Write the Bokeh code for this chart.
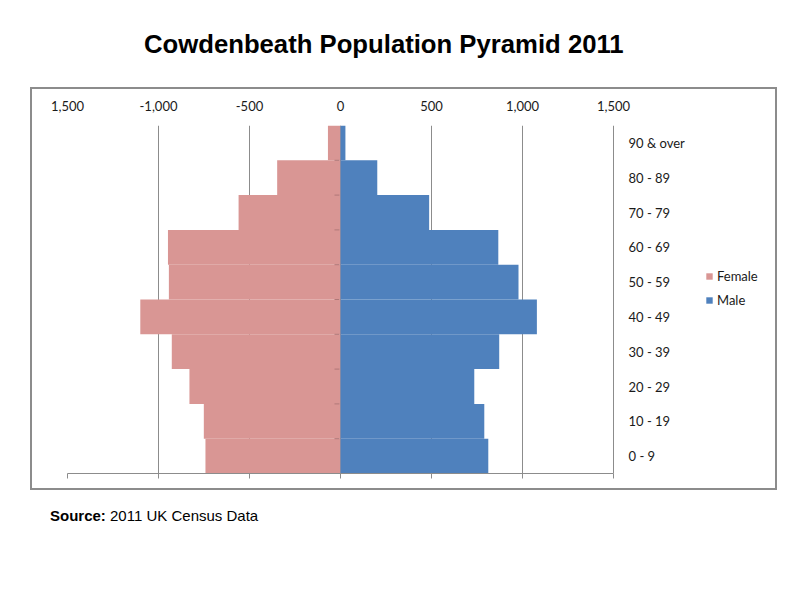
from bokeh.plotting import figure
from bokeh.models import (ColumnDataSource, FactorRange, Range1d, LinearAxis, FixedTicker,
                          Legend, LegendItem, Div, Spacer)
from bokeh.layouts import column, row
from bokeh.core.properties import value
from bokeh.transform import dodge
from bokeh.embed import file_html
from bokeh.resources import INLINE

# ---- data ----
age_groups = ["0 - 9", "10 - 19", "20 - 29", "30 - 39", "40 - 49",
              "50 - 59", "60 - 69", "70 - 79", "80 - 89", "90 & over"]
female = [742, 751, 830, 927, 1100, 943, 948, 560, 348, 69]
male = [812, 790, 735, 872, 1079, 978, 867, 487, 202, 27]
tick_values = [-1500, -1000, -500, 0, 500, 1000, 1500]
tick_labels = ["1,500", "-1,000", "-500", "0", "500", "1,000", "1,500"]
title_text = "Cowdenbeath Population Pyramid 2011"
source_bold = "Source:"
source_text = "2011 UK Census Data"
series_names = ["Female", "Male"]

PINK = "#D99694"
BLUE = "#4F81BD"
GRID = "#8c8c8c"
FONT = "Lato"

# x range: the value axis spans -1500..1500; extra room on the right holds
# the category labels and the legend (as in the original Excel chart area)
X_MIN, X_MAX = -1500, 2401

src = ColumnDataSource(dict(
    age=age_groups,
    female_neg=[-v for v in female],
    male=male,
    label_x=[tick_values[-1]] * len(age_groups),
))

p = figure(width=747, height=403, output_backend="svg", toolbar_location=None,
           x_range=Range1d(X_MIN, X_MAX), y_range=FactorRange(factors=age_groups),
           x_axis_location="above", y_axis_location=None,
           min_border_left=35, min_border_right=2, min_border_top=36, min_border_bottom=19,
           background_fill_color="white", border_fill_color="white")
p.outline_line_color = None
p.styles = {"border": "2px solid #8c8c8c", "box-sizing": "border-box"}

# bars
rf = p.hbar(y="age", left="female_neg", right=0, height=1.0, source=src,
            fill_color=PINK, line_color=None)
rm = p.hbar(y="age", left=0, right="male", height=1.0, source=src,
            fill_color=BLUE, line_color=None)

# small ticks on the zero (category) axis at band boundaries
p.segment(x0=-33, x1=-6, y0=dodge("age", -0.5, range=p.y_range),
          y1=dodge("age", -0.5, range=p.y_range), source=src,
          line_color="#b07878", line_width=1)

# category labels (right of the value axis)
p.text(x="label_x", y="age", text="age", source=src, x_offset=15,
       text_align="left", text_baseline="middle",
       text_font=value(FONT), text_font_size="13px", text_color="#1a1a1a")

# grid
p.ygrid.grid_line_color = None
p.xgrid.ticker = FixedTicker(ticks=tick_values)
p.xgrid.grid_line_color = GRID
p.xgrid.grid_line_width = 1

# top axis (labels only)
xa = p.xaxis[0]
xa.ticker = FixedTicker(ticks=tick_values)
xa.major_label_overrides = {v: s for v, s in zip(tick_values, tick_labels)}
xa.axis_line_color = None
xa.major_tick_line_color = None
xa.minor_tick_line_color = None
xa.major_tick_out = 0
xa.major_label_standoff = 15
xa.major_label_text_font = FONT
xa.major_label_text_font_size = "13px"
xa.major_label_text_color = "#1a1a1a"

# bottom axis (line + ticks only)
xb = LinearAxis(ticker=FixedTicker(ticks=tick_values), bounds=(tick_values[0], tick_values[-1]))
xb.major_label_overrides = {v: "" for v in tick_values}
xb.axis_line_color = GRID
xb.major_tick_line_color = GRID
xb.major_tick_in = 0
xb.major_tick_out = 5
xb.minor_tick_line_color = None
xb.major_label_standoff = 0
xb.major_label_text_font_size = "4px"
p.add_layout(xb, "below")

# legend
legend = Legend(items=[LegendItem(label=series_names[0], renderers=[rf]),
                       LegendItem(label=series_names[1], renderers=[rm])],
                location=(638, 165), orientation="vertical",
                glyph_width=8, glyph_height=8, label_height=16, spacing=8,
                label_standoff=4, padding=0, margin=0, border_line_color=None,
                background_fill_alpha=0,
                label_text_font=FONT, label_text_font_size="13px",
                label_text_color="#1a1a1a")
p.add_layout(legend, "center")

title_div = Div(width=784, height=87, margin=(0, 0, 0, 0),
                text=('<div style="padding:29px 0 0 144px; font-family:\'Liberation Sans\';'
                      'font-weight:bold; font-size:25.7px; line-height:30px; white-space:nowrap;'
                      'color:black;">' + title_text + '</div>'))
source_div = Div(width=784, height=60, margin=(0, 0, 0, 0),
                 text=('<div style="padding:17px 0 0 50px; font-family:\'Liberation Sans\';'
                       'font-size:15px; line-height:18px; white-space:nowrap; color:black;">'
                       '<b>' + source_bold + '</b> ' + source_text + '</div>'))

layout = column(title_div, row(Spacer(width=30, height=403), p), source_div)

open("out.html", "w").write(file_html(layout, INLINE))
